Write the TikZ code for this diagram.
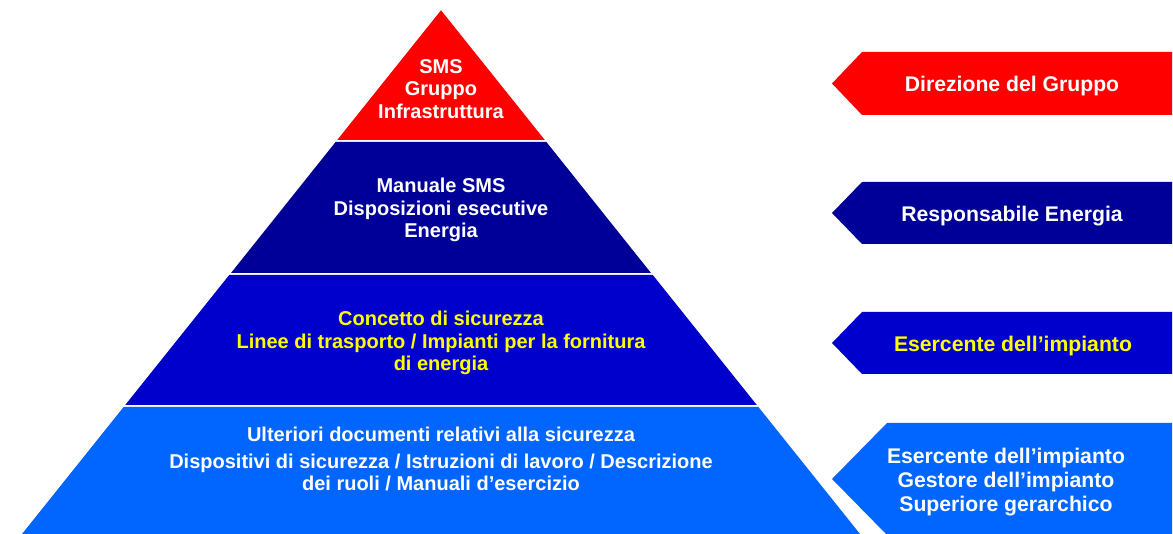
\documentclass[tikz,border=0pt]{standalone}
\usepackage{fontspec}
\setmainfont{Liberation Sans}
\definecolor{cred}{HTML}{FF0000}
\definecolor{cnavy}{HTML}{000099}
\definecolor{cmid}{HTML}{0000CC}
\definecolor{clight}{HTML}{0066FF}
\definecolor{cyel}{HTML}{FFFF00}
\tikzset{
  lbl/.style={align=center, font=\bfseries\fontsize{20}{22.8}\selectfont, inner sep=0pt},
  rlbl/.style={align=center, font=\bfseries\fontsize{21.2}{24}\selectfont, inner sep=0pt},
}
\begin{document}
\begin{tikzpicture}[x=1pt,y=-1pt]
\useasboundingbox (0,0) rectangle (1173,534);
% pyramid layers
\fill[cred]   (441,10.25) -- (544.8,140) -- (337.2,140) -- cycle;
\fill[cnavy]  (335.6,142) -- (546.4,142) -- (651,273) -- (231,273) -- cycle;
\fill[cmid]   (229.2,275) -- (652.8,275) -- (756.8,405) -- (125.2,405) -- cycle;
\fill[clight] (123.6,407) -- (758.4,407) -- (860,534) -- (22,534) -- cycle;
% pyramid texts
\node[lbl, text=white] (t1) at (441,89) {SMS\\Gruppo\\Infrastruttura};
\node[lbl, text=white] (t2) at (441,210) {Manuale SMS\\Disposizioni esecutive\\Energia};
\node[lbl, text=cyel]  (t3) at (441,343) {Concetto di sicurezza\\Linee di trasporto / Impianti per la fornitura\\di energia};
\node[lbl, text=white] (t4a) at (441,434) {Ulteriori documenti relativi alla sicurezza};
\node[lbl, text=white] (t4b) at (441,472.5) {Dispositivi di sicurezza / Istruzioni di lavoro / Descrizione\\dei ruoli / Manuali d’esercizio};
% right arrows
\fill[cred]   (1172,52)  -- (862,52)  -- (832,83.5) -- (862,115) -- (1172,115) -- cycle;
\fill[cnavy]  (1172,182) -- (862,182) -- (832,213)  -- (862,244) -- (1172,244) -- cycle;
\fill[cmid]   (1172,312) -- (862,312) -- (832,343)  -- (862,374) -- (1172,374) -- cycle;
\fill[clight] (1172,423) -- (887,423) -- (832,479)  -- (887,535) -- (1172,535) -- cycle;
\node[rlbl, text=white] (r1) at (1012,86) {Direzione del Gruppo};
\node[rlbl, text=white] (r2) at (1012,216) {Responsabile Energia};
\node[rlbl, text=cyel]  (r3) at (1013,346) {Esercente dell’impianto};
\node[rlbl, text=white] (r4) at (1006,482) {Esercente dell’impianto\\Gestore dell’impianto\\Superiore gerarchico};
\end{tikzpicture}
\end{document}
